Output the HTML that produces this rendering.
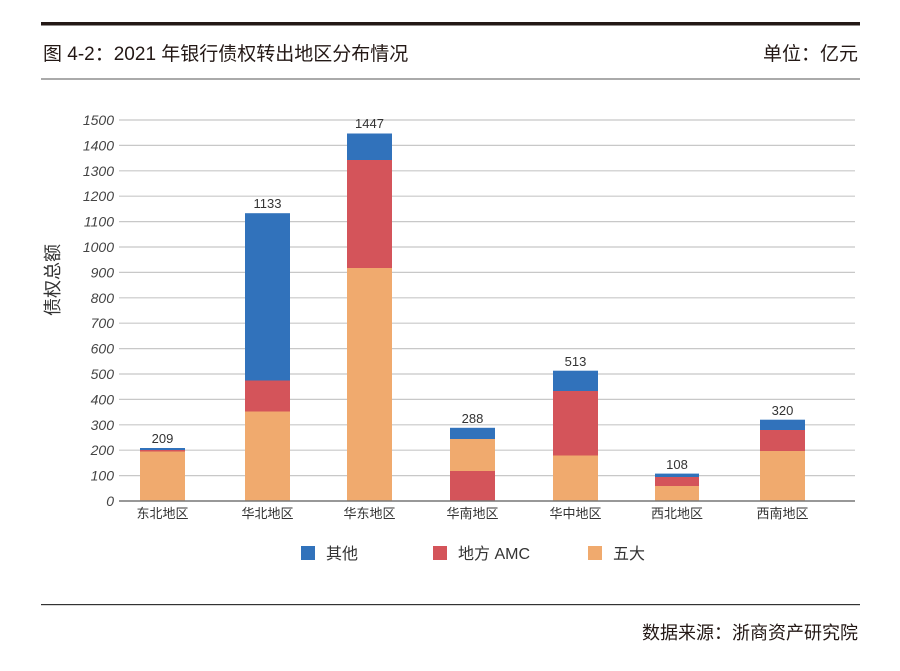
<!DOCTYPE html>
<html><head><meta charset="utf-8"><style>
body{margin:0;background:#fff;}
text{font-family:"Liberation Sans","Noto Sans CJK SC",sans-serif;}
</style></head><body>
<svg width="900" height="666" xmlns="http://www.w3.org/2000/svg">
<rect x="41" y="22" width="819" height="3.5" fill="#231815"/>
<text x="43" y="60" font-size="19" fill="#231815">图 4-2：2021 年银行债权转出地区分布情况</text>
<text x="858" y="60" font-size="19" fill="#231815" text-anchor="end">单位：亿元</text>
<rect x="41" y="78.5" width="819" height="1" fill="#555"/>
<g stroke="#c8c8c8" stroke-width="1.2">
<line x1="119" x2="855" y1="120" y2="120"/><line x1="119" x2="855" y1="145.4" y2="145.4"/><line x1="119" x2="855" y1="170.8" y2="170.8"/><line x1="119" x2="855" y1="196.2" y2="196.2"/><line x1="119" x2="855" y1="221.6" y2="221.6"/><line x1="119" x2="855" y1="247" y2="247"/><line x1="119" x2="855" y1="272.4" y2="272.4"/><line x1="119" x2="855" y1="297.8" y2="297.8"/><line x1="119" x2="855" y1="323.2" y2="323.2"/><line x1="119" x2="855" y1="348.6" y2="348.6"/><line x1="119" x2="855" y1="374" y2="374"/><line x1="119" x2="855" y1="399.4" y2="399.4"/><line x1="119" x2="855" y1="424.8" y2="424.8"/><line x1="119" x2="855" y1="450.2" y2="450.2"/><line x1="119" x2="855" y1="475.6" y2="475.6"/>
</g>
<g font-size="14" font-style="italic" fill="#444" text-anchor="end">
<text x="114" y="125">1500</text><text x="114" y="150.4">1400</text><text x="114" y="175.8">1300</text><text x="114" y="201.2">1200</text><text x="114" y="226.6">1100</text><text x="114" y="252">1000</text><text x="114" y="277.4">900</text><text x="114" y="302.8">800</text><text x="114" y="328.2">700</text><text x="114" y="353.6">600</text><text x="114" y="379">500</text><text x="114" y="404.4">400</text><text x="114" y="429.8">300</text><text x="114" y="455.2">200</text><text x="114" y="480.6">100</text><text x="114" y="506">0</text>
</g>
<text transform="translate(59,280) rotate(-90)" font-size="18" fill="#333" text-anchor="middle">债权总额</text>
<g>
<rect x="140" y="451.5" width="45" height="49.5" fill="#f0aa6e"/><rect x="140" y="450" width="45" height="1.5" fill="#d4545a"/><rect x="140" y="448" width="45" height="2" fill="#3172bb"/>
<rect x="245" y="411.5" width="45" height="89.5" fill="#f0aa6e"/><rect x="245" y="380.5" width="45" height="31" fill="#d4545a"/><rect x="245" y="213.2" width="45" height="167.3" fill="#3172bb"/>
<rect x="347" y="268" width="45" height="233" fill="#f0aa6e"/><rect x="347" y="160" width="45" height="108" fill="#d4545a"/><rect x="347" y="133.5" width="45" height="26.5" fill="#3172bb"/>
<rect x="450" y="471" width="45" height="30" fill="#d4545a"/><rect x="450" y="439" width="45" height="32" fill="#f0aa6e"/><rect x="450" y="427.8" width="45" height="11.2" fill="#3172bb"/>
<rect x="553" y="455.5" width="45" height="45.5" fill="#f0aa6e"/><rect x="553" y="391" width="45" height="64.5" fill="#d4545a"/><rect x="553" y="370.7" width="45" height="20.3" fill="#3172bb"/>
<rect x="655" y="486" width="44" height="15" fill="#f0aa6e"/><rect x="655" y="477" width="44" height="9" fill="#d4545a"/><rect x="655" y="473.6" width="44" height="3.4" fill="#3172bb"/>
<rect x="760" y="451" width="45" height="50" fill="#f0aa6e"/><rect x="760" y="430" width="45" height="21" fill="#d4545a"/><rect x="760" y="419.7" width="45" height="10.3" fill="#3172bb"/>
</g>
<line x1="119" x2="855" y1="501" y2="501" stroke="#777" stroke-width="1.5"/>
<g font-size="13" fill="#333" text-anchor="middle">
<text x="162.5" y="443">209</text><text x="267.5" y="208">1133</text><text x="369.5" y="128">1447</text><text x="472.5" y="423">288</text><text x="575.5" y="366">513</text><text x="677" y="469">108</text><text x="782.5" y="415">320</text>
</g>
<g font-size="13" fill="#333" text-anchor="middle">
<text x="162.5" y="518">东北地区</text><text x="267.5" y="518">华北地区</text><text x="369.5" y="518">华东地区</text><text x="472.5" y="518">华南地区</text><text x="575.5" y="518">华中地区</text><text x="677" y="518">西北地区</text><text x="782.5" y="518">西南地区</text>
</g>
<rect x="301" y="546" width="14" height="14" fill="#3172bb"/><text x="326" y="559" font-size="16" fill="#333">其他</text>
<rect x="433" y="546" width="14" height="14" fill="#d4545a"/><text x="458" y="559" font-size="16" fill="#333">地方 AMC</text>
<rect x="588" y="546" width="14" height="14" fill="#f0aa6e"/><text x="613" y="559" font-size="16" fill="#333">五大</text>
<rect x="41" y="604" width="819" height="1.2" fill="#333"/>
<text x="858" y="639" font-size="18" fill="#231815" text-anchor="end">数据来源：浙商资产研究院</text>
</svg>
</body></html>
